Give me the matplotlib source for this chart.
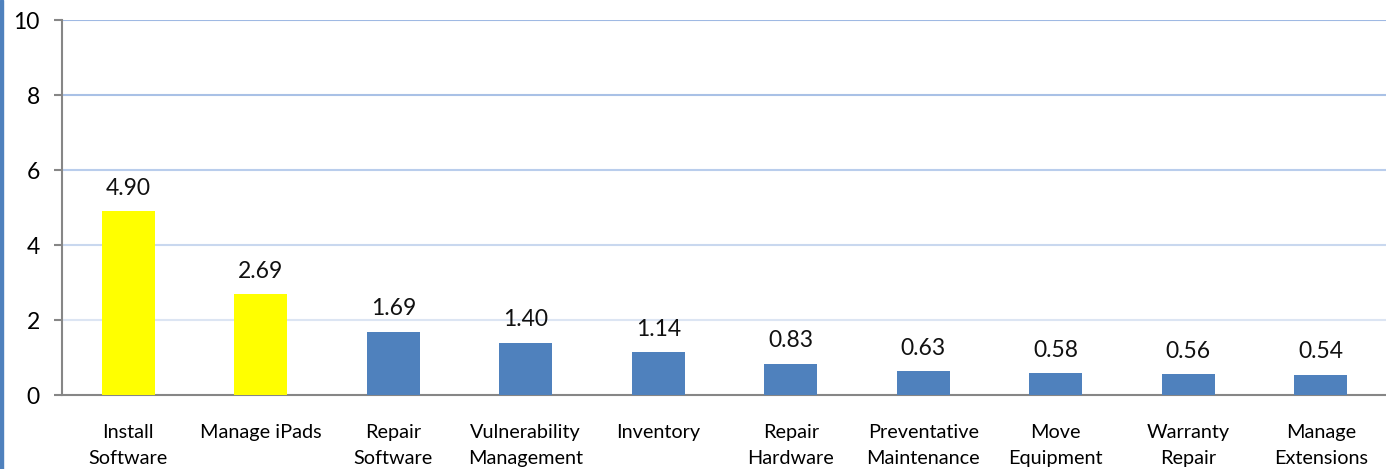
import matplotlib
matplotlib.use("Agg")
import matplotlib.pyplot as plt
from matplotlib.patches import Rectangle

categories = ["Install\nSoftware", "Manage iPads", "Repair\nSoftware", "Vulnerability\nManagement",
              "Inventory", "Repair\nHardware", "Preventative\nMaintenance", "Move\nEquipment",
              "Warranty\nRepair", "Manage\nExtensions"]
values = [4.90, 2.69, 1.69, 1.40, 1.14, 0.83, 0.63, 0.58, 0.56, 0.54]
bar_colors = ["#FFFF00", "#FFFF00"] + ["#4F81BD"] * 8
y_ticks = [0, 2, 4, 6, 8, 10]

plt.rcParams["font.family"] = ["Lato", "DejaVu Sans"]

W, H, DPI = 1386, 469, 100
fig = plt.figure(figsize=(W / DPI, H / DPI), dpi=DPI)
ax = fig.add_axes([62 / W, 1 - 395 / H, 1325 / W, 375 / H])

x = list(range(len(categories)))
ax.bar(x, values, width=0.4, color=bar_colors, zorder=3)
for xi, v in zip(x, values):
    ax.annotate(f"{v:.2f}", (xi, v), xytext=(0, 9), textcoords="offset points",
                ha="center", va="bottom", fontsize=16.5, color="#111111")

ax.set_xlim(-0.5, len(categories) - 0.5)
ax.set_ylim(0, 10)
ax.set_yticks(y_ticks)
ax.set_yticklabels([str(t) for t in y_ticks], fontsize=16.5)
ax.set_xticks(x)
ax.set_xticklabels(categories, fontsize=14.3, linespacing=1.65)
ax.tick_params(axis="x", length=0, pad=21)
ax.tick_params(axis="y", length=6, width=1.5, color="#868686", pad=10)

# gridlines fade from a stronger blue at the top to pale near the bottom
grid_cols = {2: "#dce5f3", 4: "#c9d8ef", 6: "#b9cdec", 8: "#a9c1e6", 10: "#9fb9e3"}
for yv, c in grid_cols.items():
    ax.axhline(yv, color=c, lw=1.5, zorder=1)

for s in ["top", "right"]:
    ax.spines[s].set_visible(False)
for s in ["left", "bottom"]:
    ax.spines[s].set_color("#868686")
    ax.spines[s].set_linewidth(1.5)

fig.patches.append(Rectangle((0, 0), 3 / W, 1, transform=fig.transFigure,
                             color="#4F81BD", zorder=0))

fig.savefig("out.png", dpi=DPI)
